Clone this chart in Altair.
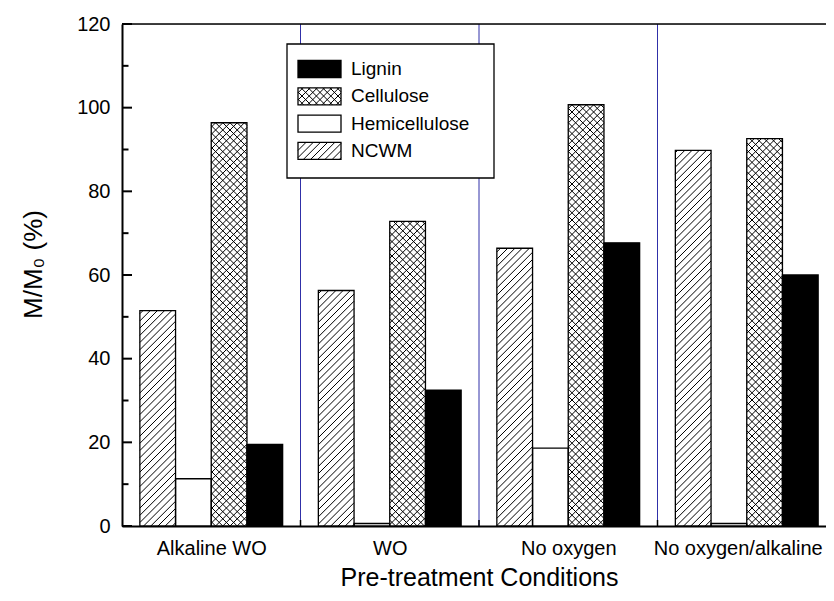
import json
import math
import pandas as pd
import altair as alt

# ---------------- data ----------------
conditions = ["Alkaline WO", "WO", "No oxygen", "No oxygen/alkaline"]
components = ["NCWM", "Hemicellulose", "Cellulose", "Lignin"]   # order inside a group
ncwm = [51.5, 56.3, 66.4, 89.8]
hemicellulose = [11.3, 0.6, 18.6, 0.6]
cellulose = [96.4, 72.8, 100.7, 92.6]
lignin = [19.5, 32.5, 67.7, 60.0]
legend_order = ["Lignin", "Cellulose", "Hemicellulose", "NCWM"]
y_major = [0, 20, 40, 60, 80, 100, 120]
y_minor = [10, 30, 50, 70, 90, 110]
y_title = "M/M\u2080 (%)"
x_title = "Pre-treatment Conditions"

series = {"NCWM": ncwm, "Hemicellulose": hemicellulose,
          "Cellulose": cellulose, "Lignin": lignin}
fills = {"NCWM": "white", "Hemicellulose": "white", "Cellulose": "white", "Lignin": "black"}
hatches = {"NCWM": ["/"], "Hemicellulose": [], "Cellulose": ["/", "\\"], "Lignin": []}

# ---------------- layout ----------------
FONT = "Liberation Sans, Arial, Helvetica, sans-serif"
W, H = 704, 502
XR = 714
PER = len(components) + 1
NSLOT = PER * len(conditions)
YMAX = 120
PX = XR / NSLOT
PY = H / YMAX
SP = 7.2


def hatch(u0, u1, v0, v1, s, kind):
    segs = []
    if u1 - u0 <= 0 or v1 - v0 <= 1.5:
        return segs
    if kind == "/":
        for k in range(math.ceil((u0 - v1) / s), math.floor((u1 - v0) / s) + 1):
            g = k * s
            a, b = max(u0, v0 + g), min(u1, v1 + g)
            if b - a > 0.4:
                segs.append((a, a - g, b, b - g))
    else:
        for k in range(math.ceil((u0 + v0) / s), math.floor((u1 + v1) / s) + 1):
            g = k * s
            a, b = max(u0, g - v1), min(u1, g - v0)
            if b - a > 0.4:
                segs.append((a, g - a, b, g - b))
    return segs


rows, hrows = [], []
for gi, cond in enumerate(conditions):
    for j, comp in enumerate(components):
        x0 = gi * PER + 0.5 + j
        v = series[comp][gi]
        rows.append(dict(condition=cond, component=comp, x=x0, x2=x0 + 1,
                         value=v, zero=0, fill=fills[comp]))
        for kind in hatches[comp]:
            for a, va, b, vb in hatch(x0 * PX, (x0 + 1) * PX, 0, v * PY, SP, kind):
                hrows.append(dict(x=a / PX, value=va / PY, x2=b / PX, v2=vb / PY))
bars = pd.DataFrame(rows)
hdf = pd.DataFrame(hrows)
seps = pd.DataFrame({"x": [gi * PER for gi in range(1, len(conditions))]})
centers = [gi * PER + PER / 2 for gi in range(len(conditions))]
ticks_major = pd.DataFrame({"value": y_major})
ticks_minor = pd.DataFrame({"value": y_minor})
one = pd.DataFrame({"a": [0]})

xs = alt.Scale(domain=[0, NSLOT], range=[0, XR], nice=False, zero=False)
ys = alt.Scale(domain=[0, YMAX], nice=False)

label_expr = f"{json.dumps(conditions)}[round((datum.value - {PER / 2}) / {PER})]"

X_AXIS = alt.Axis(
    values=centers, labelExpr=label_expr, ticks=False, tickSize=0,
    domainColor="black", domainWidth=2, labelFontSize=20, labelFont=FONT,
    labelColor="black", labelPadding=12, labelFlush=False, labelOverlap=False,
    labelOffset={"condition": {"test": f"datum.value == {centers[-1]}", "value": -9},
                 "value": 0},
    grid=False, title=x_title, titleFontSize=25, titleFont=FONT,
    titleFontWeight="normal", titleColor="black", titlePadding=7)
Y_AXIS = alt.Axis(
    values=y_major, ticks=False, tickSize=0, domainColor="black", domainWidth=2,
    labelFontSize=20, labelFont=FONT, labelColor="black", labelPadding=12,
    grid=False, title=y_title, titleFontSize=26, titleFont=FONT,
    titleFontWeight="normal", titleColor="black", titlePadding=30, titleY=240)

bar_fill = alt.Chart(bars).mark_rect(stroke=None).encode(
    x=alt.X("x:Q", scale=xs, axis=X_AXIS),
    x2="x2:Q",
    y=alt.Y("value:Q", scale=ys, axis=Y_AXIS),
    y2="zero:Q",
    fill=alt.Fill("fill:N", scale=None),
)

sep_layer = alt.Chart(seps).mark_rule(color="#3030a8", strokeWidth=1).encode(
    x=alt.X("x:Q"), y=alt.value(0), y2=alt.value(H))

hatch_layer = alt.Chart(hdf).mark_rule(color="black", strokeWidth=1).encode(
    x=alt.X("x:Q"), y=alt.Y("value:Q"), x2="x2:Q", y2="v2:Q")

bar_edge = alt.Chart(bars).mark_rect(fillOpacity=0, stroke="black", strokeWidth=1.3).encode(
    x=alt.X("x:Q"), x2="x2:Q", y=alt.Y("value:Q"), y2="zero:Q")

sep_ticks = alt.Chart(seps).mark_rule(color="black", strokeWidth=1.5).encode(
    x=alt.X("x:Q"), y=alt.value(H), y2=alt.value(H - 6))

ytick_major = alt.Chart(ticks_major).mark_rule(color="black", strokeWidth=2).encode(
    y=alt.Y("value:Q"), x=alt.value(0), x2=alt.value(10))
ytick_minor = alt.Chart(ticks_minor).mark_rule(color="black", strokeWidth=2).encode(
    y=alt.Y("value:Q"), x=alt.value(0), x2=alt.value(6.5))

top_border = alt.Chart(one).mark_rule(color="black", strokeWidth=1.5).encode(
    x=alt.value(0), x2=alt.value(XR), y=alt.value(0))

# ---------------- legend (drawn inside plot) ----------------
LX0, LX1, LY0, LY1 = 165, 372, 20, 154
SX0, SX1, SH = 176, 219, 17
ROW0, ROWSTEP = 45, 27.3
leg_rows, leg_h = [], []
for i, name in enumerate(legend_order):
    cy = ROW0 + i * ROWSTEP
    leg_rows.append(dict(name=name, sx=SX0, sx2=SX1, sy=cy - SH / 2, sy2=cy + SH / 2,
                         ty=cy, tx=SX1 + 10, fill=fills[name]))
    for kind in hatches[name]:
        for a, va, b, vb in hatch(SX0, SX1, -(cy + SH / 2), -(cy - SH / 2), SP, kind):
            leg_h.append(dict(hx=a, hy=-va, hx2=b, hy2=-vb))
ldf = pd.DataFrame(leg_rows)
lhdf = pd.DataFrame(leg_h)
box = pd.DataFrame({"bx": [LX0], "bx2": [LX1], "by": [LY0], "by2": [LY1]})

leg_box = alt.Chart(box).mark_rect(fill="white", stroke="black", strokeWidth=1.3).encode(
    x=alt.X("bx:Q", scale=None), x2="bx2:Q",
    y=alt.Y("by:Q", scale=None), y2="by2:Q")
leg_fill = alt.Chart(ldf).mark_rect(stroke=None).encode(
    x=alt.X("sx:Q", scale=None), x2="sx2:Q",
    y=alt.Y("sy:Q", scale=None), y2="sy2:Q",
    fill=alt.Fill("fill:N", scale=None))
leg_hatch = alt.Chart(lhdf).mark_rule(color="black", strokeWidth=1).encode(
    x=alt.X("hx:Q", scale=None), y=alt.Y("hy:Q", scale=None),
    x2="hx2:Q", y2="hy2:Q")
leg_edge = alt.Chart(ldf).mark_rect(fillOpacity=0, stroke="black", strokeWidth=1.3).encode(
    x=alt.X("sx:Q", scale=None), x2="sx2:Q",
    y=alt.Y("sy:Q", scale=None), y2="sy2:Q")
leg_text = alt.Chart(ldf).mark_text(align="left", baseline="middle", fontSize=19,
                                    font=FONT, color="black").encode(
    x=alt.X("tx:Q", scale=None), y=alt.Y("ty:Q", scale=None),
    text="name:N")

chart = alt.layer(
    bar_fill, sep_layer, hatch_layer, bar_edge, sep_ticks, ytick_major, ytick_minor,
    top_border, leg_box, leg_fill, leg_hatch, leg_edge, leg_text
).properties(
    width=W, height=H,
    autosize=alt.AutoSizeParams(type="none"),
    padding={"left": 114, "top": 16, "right": 0, "bottom": 67},
).configure_view(stroke=None).configure(font=FONT, background="white")

chart.save("out.html", embed_options={"renderer": "svg", "actions": False})
